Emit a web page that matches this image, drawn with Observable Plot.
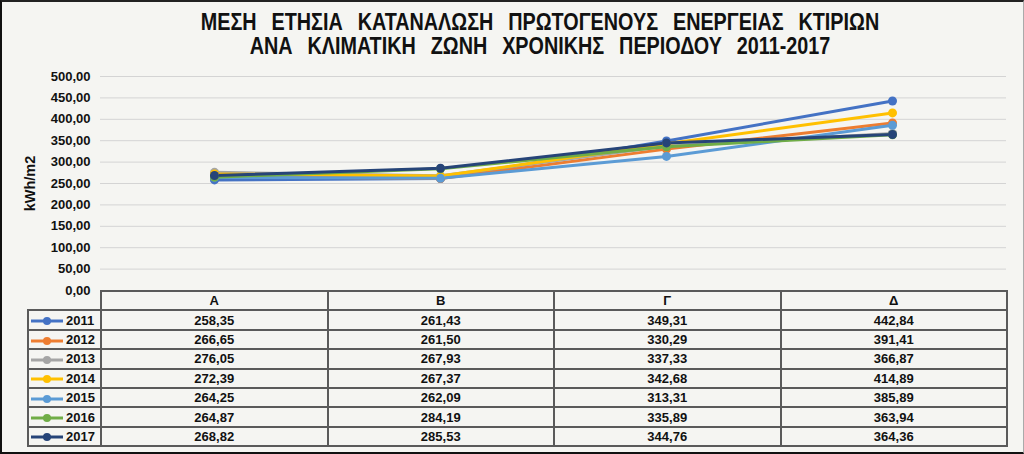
<!DOCTYPE html>
<html>
<head>
<meta charset="utf-8">
<script src="https://cdn.jsdelivr.net/npm/d3@7"></script>
<script src="https://cdn.jsdelivr.net/npm/@observablehq/plot@0.6"></script>
<style>
  html, body { margin: 0; padding: 0; background: #fff; }
  #chart { position: relative; width: 1024px; height: 454px; background: #f5f5f2; overflow: hidden;
           font-family: "Liberation Sans", Arial, sans-serif; }
  #frame { position: absolute; left: 0; top: 0; width: 1024px; height: 454px; box-sizing: border-box;
           border-left: 2px solid #111; border-top: 2px solid #222; border-bottom: 2px solid #111; border-right: 1px solid #aaa;
           pointer-events: none; }
  #title { position: absolute; left: 40px; top: 10px; width: 1000px; text-align: center;
           font-family: "Liberation Sans", Arial, sans-serif; font-weight: bold;
           font-size: 23px; line-height: 24px; color: #111; word-spacing: 11px;
           transform: scaleX(0.86); transform-origin: 500px 0; }
  #plot { position: absolute; left: 0; top: 0; }
  #tbl { position: absolute; left: 27px; top: 290px; border-collapse: collapse; table-layout: fixed;
         font-weight: bold; font-size: 13px; color: #111; }
  #tbl td { height: 17.4px; padding: 0; text-align: center; border: 2px solid #5a5a5a; line-height: 15px; }
  #tbl td.blank { border: none; border-right: 2px solid #5a5a5a; }
  #tbl td.key { text-align: left; padding-left: 1px; white-space: nowrap; }
  #tbl td.key svg { vertical-align: middle; margin-right: 2px; }
</style>
</head>
<body>
<div id="chart">
  <div id="title">ΜΕΣΗ ΕΤΗΣΙΑ ΚΑΤΑΝΑΛΩΣΗ ΠΡΩΤΟΓΕΝΟΥΣ ΕΝΕΡΓΕΙΑΣ ΚΤΙΡΙΩΝ<br>ΑΝΑ ΚΛΙΜΑΤΙΚΗ ΖΩΝΗ ΧΡΟΝΙΚΗΣ ΠΕΡΙΟΔΟΥ 2011-2017</div>
  <div id="plot"></div>
  <table id="tbl"></table>
  <div id="frame"></div>
</div>
<script>
const categories = ["Α", "Β", "Γ", "Δ"];
const years = ["2011", "2012", "2013", "2014", "2015", "2016", "2017"];
const v2011 = [258.35, 261.43, 349.31, 442.84];
const v2012 = [266.65, 261.50, 330.29, 391.41];
const v2013 = [276.05, 267.93, 337.33, 366.87];
const v2014 = [272.39, 267.37, 342.68, 414.89];
const v2015 = [264.25, 262.09, 313.31, 385.89];
const v2016 = [264.87, 284.19, 335.89, 363.94];
const v2017 = [268.82, 285.53, 344.76, 364.36];
const colors = ["#4472C4", "#ED7D31", "#A5A5A5", "#FFC000", "#5B9BD5", "#70AD47", "#264478"];
const yTicks = [0, 50, 100, 150, 200, 250, 300, 350, 400, 450, 500];

const series = [v2011, v2012, v2013, v2014, v2015, v2016, v2017];
const data = [];
series.forEach((vals, i) => vals.forEach((v, j) => data.push({year: years[i], cat: categories[j], value: v})));
const fmt = d => d.toFixed(2).replace(".", ",");

const plot = Plot.plot({
  width: 1024,
  height: 300,
  marginLeft: 100,
  marginRight: 18,
  marginTop: 76,
  marginBottom: 10,
  style: {background: "transparent", fontFamily: "'Liberation Sans', Arial, sans-serif", fontSize: "13px", fontWeight: "bold", color: "#111"},
  x: {type: "point", domain: categories, padding: 0.5, axis: null},
  y: {domain: [0, 500]},
  color: {domain: years, range: colors},
  marks: [
    Plot.gridY(yTicks, {stroke: "#d4d4d4", strokeOpacity: 1, strokeWidth: 1}),
    Plot.axisY(yTicks, {tickSize: 0, tickPadding: 10, tickFormat: fmt, fontSize: 13, fontWeight: "bold", label: null}),
    Plot.axisY({tickSize: 0, ticks: [], fontSize: 14.5, fontWeight: "bold",
      label: "kWh/m2", labelAnchor: "center", labelArrow: "none", labelOffset: 76}),
    Plot.line(data, {x: "cat", y: "value", z: "year", stroke: "year", strokeWidth: 3}),
    Plot.dot(data, {x: "cat", y: "value", fill: "year", r: 4.5})
  ]
});
document.getElementById("plot").appendChild(plot);

// Data table
const tbl = document.getElementById("tbl");
const colg = document.createElement("colgroup");
[73, 226.5, 226.5, 226.5, 226.5].forEach(w => { const c = document.createElement("col"); c.style.width = w + "px"; colg.appendChild(c); });
tbl.appendChild(colg);
const hr = document.createElement("tr");
const blank = document.createElement("td"); blank.className = "blank"; hr.appendChild(blank);
categories.forEach(c => { const td = document.createElement("td"); td.textContent = c; hr.appendChild(td); });
tbl.appendChild(hr);
series.forEach((vals, i) => {
  const tr = document.createElement("tr");
  const k = document.createElement("td"); k.className = "key";
  k.innerHTML = `<svg width="34" height="10"><line x1="1" x2="33" y1="5" y2="5" stroke="${colors[i]}" stroke-width="3"/><circle cx="17" cy="5" r="4" fill="${colors[i]}"/></svg>${years[i]}`;
  tr.appendChild(k);
  vals.forEach(v => { const td = document.createElement("td"); td.textContent = fmt(v); tr.appendChild(td); });
  tbl.appendChild(tr);
});
</script>
</body>
</html>
